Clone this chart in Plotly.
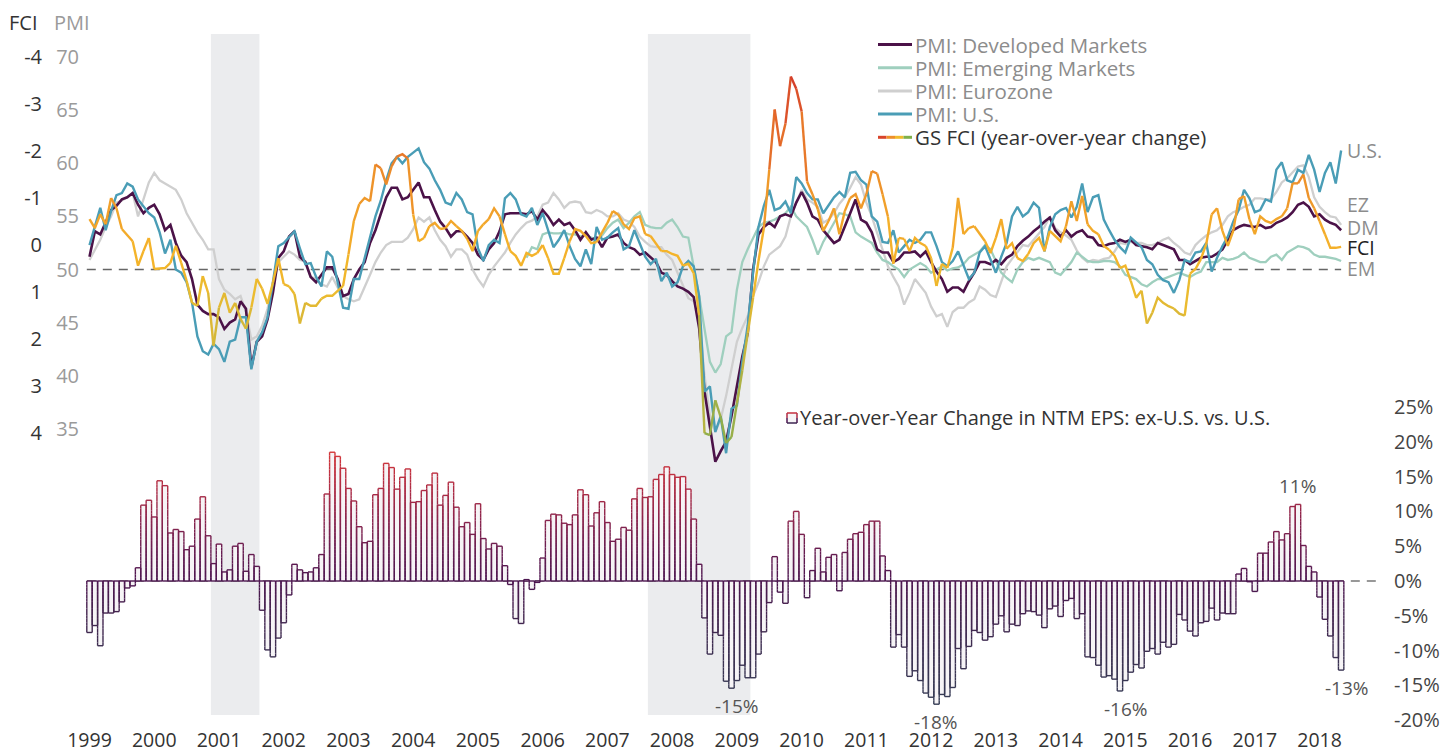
import math
import plotly.graph_objects as go

# ---------------- data (monthly, Jan 1999 .. May 2018) ----------------
START_YEAR = 1999
YEARS = list(range(1999, 2019))

EPS_YOY = [  # Year-over-Year change in NTM EPS: ex-U.S. vs. U.S. (%)
    -7.4, -6.4, -9.3, -4.6, -4.6, -4.4, -3.0, -1.0, -0.7, 1.9, 10.9, 11.6,
    9.2, 14.4, 13.7, 6.9, 7.4, 7.1, 4.5, 5.0, 8.9, 12.1, 6.5, 2.5,
    5.3, 1.3, 1.6, 5.0, 5.4, 1.4, 3.8, 2.1, -4.2, -9.9, -10.9, -8.2,
    -6.0, -2.0, 2.4, 1.6, 1.2, 1.3, 1.9, 3.8, 12.5, 18.5, 17.9, 16.2,
    13.3, 11.5, 7.8, 5.5, 5.7, 12.4, 13.3, 16.9, 16.3, 13.2, 14.9, 16.1,
    11.3, 11.4, 13.0, 13.8, 15.5, 10.9, 12.3, 14.2, 10.6, 7.8, 8.4, 6.7,
    11.1, 6.1, 4.6, 5.4, 5.0, 2.2, -0.5, -5.4, -6.1, 0.2, -1.2, -0.2,
    3.3, 8.7, 9.6, 9.5, 8.3, 8.1, 9.5, 13.1, 12.4, 7.9, 9.8, 11.4,
    8.4, 5.7, 6.0, 7.7, 7.3, 11.8, 13.3, 12.0, 12.1, 14.6, 15.3, 16.4,
    15.3, 14.9, 15.0, 13.2, 8.9, 2.4, -5.3, -10.5, -7.4, -7.8, -14.4, -15.4,
    -14.3, -12.1, -13.9, -13.9, -10.5, -7.3, -3.1, 3.5, -1.6, -3.2, 8.6, 10.0,
    6.7, -2.4, 1.5, 4.7, 1.3, 3.4, 3.8, -1.4, 4.1, 6.0, 6.8, 7.0,
    8.1, 8.6, 8.6, 3.6, 1.5, -9.5, -7.7, -9.5, -13.7, -12.9, -14.3, -16.1,
    -16.7, -17.7, -16.3, -16.6, -15.3, -9.7, -12.6, -9.4, -7.1, -7.4, -8.5, -8.0,
    -6.2, -5.0, -7.3, -6.2, -6.4, -4.7, -4.3, -4.4, -4.9, -6.7, -4.0, -3.6,
    -5.1, -2.8, -2.5, -5.4, -4.7, -10.9, -11.0, -12.1, -13.8, -13.6, -14.1, -15.8,
    -14.3, -13.1, -12.0, -12.5, -10.1, -9.7, -10.5, -8.8, -9.5, -9.1, -4.8, -5.6,
    -7.2, -7.9, -6.0, -5.8, -3.9, -5.6, -4.6, -4.7, -4.7, 1.0, 1.8, -0.1,
    -1.5, 4.0, 4.0, 5.6, 7.1, 5.9, 6.8, 10.7, 11.0, 5.1, 2.1, 1.3,
    -2.3, -5.5, -7.9, -11.0, -12.8,
]

PMI_DM = [
    51.2, 53.6, 53.3, 54.4, 55.6, 56.0, 56.6, 56.8, 57.2, 56.1, 55.3, 55.8,
    56.1, 55.2, 53.7, 54.2, 52.5, 51.3, 50.7, 49.1, 46.7, 46.1, 45.8, 45.8,
    45.5, 44.4, 45.0, 45.3, 47.0, 46.3, 40.8, 43.2, 43.7, 45.3, 47.8, 51.1,
    51.7, 53.1, 53.6, 51.2, 50.7, 49.3, 48.8, 49.5, 50.2, 50.2, 49.1, 47.5,
    47.7, 49.1, 50.0, 50.7, 52.5, 53.7, 55.3, 56.8, 57.7, 57.7, 56.6, 56.8,
    57.5, 58.2, 56.8, 56.8, 55.6, 54.5, 53.9, 53.1, 53.6, 53.6, 53.1, 52.5,
    51.4, 50.9, 51.9, 52.5, 53.6, 55.2, 55.3, 55.3, 55.3, 55.2, 55.5, 54.7,
    55.6, 55.0, 54.2, 54.7, 54.2, 54.4, 53.7, 52.8, 53.5, 52.8, 53.0, 52.1,
    53.0, 53.1, 53.3, 52.5, 52.1, 51.9, 51.4, 51.6, 51.1, 50.7, 49.7, 49.5,
    48.9, 48.4, 48.2, 47.9, 47.4, 44.5, 38.5, 35.0, 31.9, 32.9, 33.8, 36.2,
    39.0, 41.8, 44.0, 50.0, 53.3, 54.0, 54.4, 54.0, 55.0, 55.2, 55.0, 56.3,
    57.3, 56.3, 55.0, 54.7, 53.7, 53.1, 52.5, 52.8, 54.0, 55.3, 56.6, 54.7,
    54.4, 53.5, 51.9, 51.6, 51.6, 50.7, 51.0, 51.6, 51.6, 51.7, 51.2, 51.7,
    50.7, 49.8, 49.1, 47.9, 48.3, 48.3, 47.9, 48.9, 49.7, 50.7, 50.7, 50.5,
    50.9, 50.5, 51.1, 51.4, 52.2, 52.7, 53.1, 53.6, 54.0, 54.5, 54.9, 53.7,
    53.1, 53.7, 53.1, 53.5, 53.7, 53.1, 53.0, 52.3, 52.2, 52.4, 52.5, 52.8,
    52.6, 52.8, 52.3, 52.2, 52.1, 51.9, 52.5, 52.3, 52.1, 51.9, 50.9, 50.9,
    50.5, 50.8, 51.1, 51.2, 51.2, 51.5, 51.9, 52.8, 53.7, 54.0, 54.2, 54.1,
    54.0, 54.2, 53.9, 54.0, 54.4, 54.6, 54.9, 55.4, 56.1, 56.3, 55.9, 55.0,
    55.2, 54.7, 54.4, 54.2, 53.7,
]

PMI_US = [
    52.3, 54.0, 55.8, 53.7, 55.5, 57.0, 57.2, 58.1, 57.8, 56.6, 56.0, 55.3,
    54.9, 53.5, 51.5, 52.8, 50.0, 49.7, 48.8, 46.9, 43.7, 42.3, 42.0, 43.0,
    42.5, 41.3, 43.2, 43.4, 45.5, 45.5, 40.6, 43.2, 44.1, 45.5, 48.8, 52.2,
    52.5, 53.0, 53.6, 52.0, 50.5, 50.6, 49.3, 48.4, 51.7, 51.2, 48.8, 46.4,
    46.3, 49.1, 49.1, 51.0, 53.1, 55.0, 56.5, 58.4, 60.0, 60.6, 60.0, 60.6,
    61.0, 61.4, 60.1, 59.5, 58.4, 57.5, 56.3, 56.1, 57.2, 56.6, 55.4, 55.2,
    52.0, 50.8, 52.3, 52.8, 52.5, 56.7, 57.2, 56.6, 55.2, 55.0, 55.8, 54.2,
    55.3, 53.7, 52.1, 52.8, 53.7, 52.2, 51.0, 50.3, 51.9, 50.5, 54.0, 52.8,
    53.0, 53.5, 53.9, 51.9, 52.2, 53.7, 52.5, 51.2, 50.5, 51.0, 48.9, 49.7,
    48.4, 48.8, 50.3, 50.8, 50.3, 47.5, 38.5, 39.0, 34.7, 36.2, 32.7, 36.9,
    37.2, 41.3, 44.7, 49.7, 54.0, 56.0, 57.5, 55.6, 55.8, 56.4, 55.3, 58.7,
    58.1, 57.2, 56.6, 56.6, 55.3, 56.1, 56.8, 57.3, 56.8, 59.1, 59.2, 58.4,
    58.0, 55.0, 54.5, 52.6, 52.5, 53.7, 51.6, 52.2, 52.8, 52.5, 52.8, 53.5,
    53.5, 52.2, 50.7, 50.3, 50.8, 51.7, 50.3, 49.1, 49.7, 51.6, 52.2, 50.9,
    49.7, 51.2, 52.5, 55.0, 55.9, 55.0, 55.4, 56.3, 55.8, 51.7, 54.0, 55.2,
    55.6, 55.8, 54.9, 55.9, 58.1, 55.4, 56.8, 57.0, 54.7, 53.7, 52.8, 52.1,
    51.6, 53.0, 52.5, 52.1, 50.9, 50.5, 49.5, 49.0, 48.8, 47.8, 49.0, 50.9,
    50.7, 51.6, 51.7, 52.5, 49.8, 51.1, 52.2, 53.1, 54.5, 55.6, 57.5, 56.7,
    55.4, 55.6, 56.6, 56.4, 59.4, 60.1, 58.4, 58.2, 59.4, 59.1, 60.8, 59.4,
    57.3, 59.1, 60.1, 58.1, 61.2,
]

PMI_EZ = [
    50.9, 51.8, 52.8, 54.0, 55.0, 56.3, 56.5, 56.8, 57.2, 55.0, 56.6, 58.2,
    59.1, 58.4, 58.1, 57.8, 57.5, 56.6, 55.3, 54.4, 53.5, 52.8, 51.9, 51.9,
    49.1, 48.1, 47.7, 47.2, 47.5, 46.0, 43.4, 43.7, 44.7, 46.3, 48.4, 50.7,
    51.2, 51.7, 51.4, 50.9, 50.8, 49.3, 49.1, 48.6, 48.4, 49.3, 48.3, 47.5,
    47.2, 47.0, 47.2, 48.3, 49.5, 50.7, 51.6, 52.3, 52.6, 52.6, 52.6, 53.0,
    53.8, 54.9, 54.5, 54.9, 53.7, 52.8, 52.2, 51.2, 51.9, 51.9, 51.4, 50.0,
    49.1, 48.4, 49.5, 50.3, 50.9, 51.6, 52.5, 53.3, 53.9, 54.4, 54.6, 55.0,
    56.1, 56.3, 57.2, 56.6, 55.8, 56.3, 56.4, 56.3, 55.4, 55.3, 55.6, 55.4,
    55.0, 55.0, 55.3, 54.7, 54.5, 54.0, 53.1, 52.6, 52.2, 52.1, 52.1, 51.4,
    50.9, 49.7, 48.4, 47.3, 47.0, 45.6, 40.0, 36.2, 34.7, 35.9, 38.1, 40.6,
    43.2, 44.5, 45.6, 47.5, 48.8, 50.3, 51.4, 51.8, 52.2, 53.1, 55.0, 56.3,
    57.5, 56.6, 56.3, 55.9, 54.4, 54.7, 55.3, 56.2, 56.8, 57.7, 58.7, 58.0,
    56.3, 55.0, 53.5, 51.9, 50.3, 49.3, 48.4, 46.7, 47.8, 49.1, 48.4, 47.8,
    46.5, 45.6, 45.8, 44.6, 46.0, 46.4, 46.4, 46.9, 47.2, 48.4, 48.1, 47.6,
    47.4, 48.9, 50.3, 51.0, 51.7, 52.3, 52.2, 52.8, 53.5, 54.0, 55.0, 53.9,
    53.5, 53.2, 52.8, 51.8, 51.1, 50.7, 50.9, 50.8, 51.0, 51.1, 51.7, 52.5,
    52.4, 52.6, 52.5, 52.5, 52.3, 52.3, 52.5, 52.8, 53.0, 52.5, 52.1, 51.6,
    51.4, 52.3, 52.8, 53.2, 53.5, 53.7, 54.2, 55.0, 55.4, 55.6, 55.9, 56.1,
    56.7, 56.7, 56.6, 56.6, 57.3, 58.2, 58.6, 59.1, 59.7, 59.8, 58.7, 56.8,
    55.9, 55.4, 55.0, 54.9, 54.2,
]

EM_START = 81  # Oct 2005
PMI_EM = [
    51.1, 52.1, 51.9,
    53.3, 53.5, 53.4, 53.4, 53.5, 53.3, 53.3, 53.1, 53.3, 53.0, 52.8, 53.2,
    53.9, 54.4, 54.7, 53.9, 54.4, 55.0, 55.4, 54.2, 54.0, 53.9, 53.9, 54.4,
    54.7, 54.0, 53.1, 53.0, 50.3, 47.5, 44.4, 41.3, 40.3, 41.1, 43.7, 44.1,
    48.1, 50.7, 51.9, 53.0, 54.0, 54.4, 54.5, 54.7, 55.0, 55.3, 55.9, 55.0,
    54.5, 54.0, 52.8, 51.4, 52.6, 53.5, 54.5, 55.3, 55.2, 55.0, 53.5, 53.1,
    52.8, 52.5, 51.6, 50.9, 50.7, 50.3, 50.0, 49.3, 50.0, 50.3, 50.6, 50.3,
    49.7, 50.0, 50.3, 49.9, 50.1, 50.2, 50.5, 51.1, 51.4, 51.7, 52.3, 51.9,
    50.8, 49.7, 49.2, 48.8, 50.0, 50.7, 51.1, 50.9, 51.1, 50.9, 50.7, 49.7,
    49.5, 50.1, 50.7, 51.6, 51.2, 50.8, 50.7, 50.7, 50.8, 50.8, 50.7, 50.3,
    49.5, 49.3, 49.1, 48.6, 48.4, 48.8, 49.1, 49.1, 49.3, 49.5, 49.7, 49.5,
    49.3, 49.6, 49.8, 50.7, 50.7, 50.7, 51.1, 50.9, 51.0, 51.2, 51.6, 51.1,
    50.9, 50.7, 50.7, 51.2, 51.4, 50.9, 51.6, 51.9, 52.2, 52.1, 51.9, 51.4,
    51.2, 51.2, 51.1, 51.0, 50.8,
]

GS_FCI = [  # year-over-year change, inverted axis
    -0.55, -0.36, -0.65, -0.44, -1.0, -0.78, -0.34, -0.2, -0.08, 0.44, 0.13, -0.15,
    0.51, 0.5, 0.49, 0.38, 0.02, 0.38, 0.76, 1.23, 1.29, 0.66, 1.02, 2.14,
    1.33, 1.02, 1.44, 1.23, 1.57, 1.78, 1.33, 0.72, 0.93, 1.25, 0.80, 0.28,
    0.83, 0.88, 1.04, 1.67, 1.23, 1.29, 1.29, 1.14, 1.08, 1.08, 0.97, 0.87,
    0.20, -0.51, -0.87, -1.0, -0.93, -1.71, -1.63, -1.29, -1.67, -1.88, -1.93, -1.84,
    -0.65, -0.08, -0.15, -0.40, -0.47, -0.34, -0.36, -0.51, -0.40, -0.30, -0.13, 0.13,
    -0.30, -0.44, -0.55, -0.78, -0.61, -0.23, 0.13, 0.23, 0.44, 0.17, 0.23, 0.17,
    0.0, 0.28, 0.61, 0.61, 0.28, -0.08, -0.34, -0.30, -0.19, -0.04, -0.06, -0.25,
    -0.47, -0.72, -0.65, -0.44, -0.34, -0.57, -0.61, -0.23, -0.19, -0.04, 0.13, 0.13,
    0.19, 0.23, 0.44, 0.40, 0.6, 1.5, 4.0, 4.04, 3.3, 3.66, 4.21, 4.08,
    3.37, 2.67, 1.88, 1.12, 0.34, -0.36, -1.6, -2.88, -2.10, -2.58, -3.58, -3.32,
    -2.84, -1.35, -1.08, -0.76, -0.30, -0.51, -0.78, -0.23, -0.72, -1.0, -1.08, -0.78,
    -1.08, -1.57, -1.52, -1.08, -0.6, 0.40, -0.15, -0.13, 0.13, -0.15, -0.04, 0.02,
    0.28, 0.87, 0.40, 0.49, 0.06, -1.0, -0.23, -0.36, -0.40, -0.23, -0.08, 0.17,
    -0.15, -0.55, 0.08, -0.04, 0.28, 0.34, 0.19, -0.04, -0.15, 0.13, -0.30, -0.2,
    -0.08, -0.40, -0.93, -0.51, -1.04, -0.44, -0.30, -0.23, 0.02, 0.1, 0.23, 0.49,
    0.44, 0.76, 1.12, 0.97, 1.67, 1.44, 1.12, 1.23, 1.30, 1.35, 1.46, 1.50,
    0.61, 0.51, 0.30, -0.02, -0.65, -0.78, -0.30, 0.02, -0.30, -0.97, -1.04, -0.55,
    -0.23, -0.61, -0.51, -0.47, -0.55, -0.61, -0.78, -1.31, -1.31, -1.50, -1.0, -0.78,
    -0.51, -0.23, 0.06, 0.06, 0.04,
]

RECESSION_START = [2000 + 11 / 12, 2007 + 8 / 12]
RECESSION_END = [2001 + 8 / 12, 2009 + 3 / 12]

PMI_TICKS = [35, 40, 45, 50, 55, 60, 65, 70]
FCI_TICKS = [-4, -3, -2, -1, 0, 1, 2, 3, 4]
EPS_TICKS = [-20, -15, -10, -5, 0, 5, 10, 15, 20, 25]
BAR_LABEL_IDX = [119, 157, 191, 224, 232]

# ---------------- styling / geometry ----------------
W, H = 1447, 751
FONT = "Open Sans"
C_DM, C_EM, C_EZ, C_US = "#4b1248", "#9fcfbe", "#cfcfcf", "#4a9db6"
C_GRAY_TXT, C_DARK_TXT = "#8c8c8c", "#333333"

PLOT_L, PLOT_R, PLOT_T, PLOT_B = 80, 1393, 34, 726
X0_PX, PX_PER_YEAR = 89.5, 64.74


def mx(i):
    return START_YEAR + (i + 0.5) / 12


def xr(px):
    return mx(0) + (px - X0_PX) / PX_PER_YEAR


def fx(px):
    return px / W


def fy(py):
    return (PLOT_B - py) / (PLOT_B - PLOT_T)


def yrange(val, px, ppu, invert=False):
    if not invert:
        return [val - (PLOT_B - px) / ppu, val + (px - PLOT_T) / ppu]
    return [val + (PLOT_B - px) / ppu, val - (px - PLOT_T) / ppu]


def hex2rgb(h):
    h = h.lstrip("#")
    return tuple(int(h[k:k + 2], 16) for k in (0, 2, 4))


def interp(v, stops):
    if v <= stops[0][0]:
        return stops[0][1]
    if v >= stops[-1][0]:
        return stops[-1][1]
    for (a, ca), (b, cb) in zip(stops, stops[1:]):
        if a <= v <= b:
            t = (v - a) / (b - a)
            r1, g1, b1 = hex2rgb(ca)
            r2, g2, b2 = hex2rgb(cb)
            return "rgb(%d,%d,%d)" % (r1 + (r2 - r1) * t, g1 + (g2 - g1) * t, b1 + (b2 - b1) * t)


FCI_STOPS = [(-3.6, "#d43d2a"), (-2.5, "#e3652a"), (-1.6, "#ec8a2a"), (-0.6, "#f2a42a"),
             (0.2, "#f5b42a"), (1.0, "#ebbb2f"), (2.0, "#cdb63c"), (3.0, "#aeb244"), (4.2, "#8dae4c")]
# outline colour depends on the height level (vertical gradient)
BAR_STOPS = [(-18, "#353d55"), (-10, "#3d3052"), (-4, "#45234f"), (0, "#4d1650"), (4, "#661c51"),
             (8, "#84234e"), (12, "#a52a47"), (16, "#c3313f"), (19, "#d93b39")]

fig = go.Figure()

# bar fills (base axis y, right side)
fig.add_trace(go.Bar(
    x=[mx(i) for i in range(len(EPS_YOY))], y=EPS_YOY, width=1 / 12,
    marker=dict(color="#f6f4f6", line=dict(width=0)),
    yaxis="y", hoverinfo="skip", showlegend=False))

# bar outlines with a vertical colour gradient
edge = {}


def add_edge(key, xa, ya, xb, yb):
    g = edge.setdefault(key, ([], []))
    g[0].extend([xa, xb, None])
    g[1].extend([ya, yb, None])


HALF = 1 / 24
for i, v in enumerate(EPS_YOY):
    xl, xrr = mx(i) - HALF, mx(i) + HALF
    n = max(1, int(math.ceil(abs(v) / 0.5)))
    for k in range(n):
        a, b = v * k / n, v * (k + 1) / n
        key = round((a + b) / 2 * 2) / 2
        add_edge(key, xl, a, xl, b)
        add_edge(key, xrr, a, xrr, b)
    add_edge(round(v * 2) / 2, xl, v, xrr, v)
    add_edge(0.0, xl, 0, xrr, 0)
for key, (xs, ys) in edge.items():
    fig.add_trace(go.Scatter(x=xs, y=ys, mode="lines", line=dict(color=interp(key, BAR_STOPS), width=1.4),
                             yaxis="y", hoverinfo="skip", showlegend=False))

# PMI lines
for vals, start, col, w in [(PMI_EZ, 0, C_EZ, 2.3), (PMI_EM, EM_START, C_EM, 2.3),
                            (PMI_DM, 0, C_DM, 2.6), (PMI_US, 0, C_US, 2.4)]:
    fig.add_trace(go.Scatter(
        x=[mx(start + k) for k in range(len(vals))], y=vals, mode="lines",
        line=dict(color=col, width=w), yaxis="y2", hoverinfo="skip", showlegend=False))

# FCI line, coloured by level
groups = {}
for i in range(len(GS_FCI) - 1):
    key = round((GS_FCI[i] + GS_FCI[i + 1]) / 2 * 4) / 4
    g = groups.setdefault(key, {"x": [], "y": [], "last": None})
    if g["last"] != i:
        if g["x"]:
            g["x"].append(None)
            g["y"].append(None)
        g["x"].append(mx(i))
        g["y"].append(GS_FCI[i])
    g["x"].append(mx(i + 1))
    g["y"].append(GS_FCI[i + 1])
    g["last"] = i + 1
for key, g in groups.items():
    fig.add_trace(go.Scatter(x=g["x"], y=g["y"], mode="lines",
                             line=dict(color=interp(key, FCI_STOPS), width=2.4),
                             yaxis="y3", hoverinfo="skip", showlegend=False))

shapes = []
for a, b in zip(RECESSION_START, RECESSION_END):
    shapes.append(dict(type="rect", xref="x", yref="paper", x0=a, x1=b, y0=fy(715), y1=1,
                       fillcolor="#ebecee", line=dict(width=0), layer="below"))
shapes.append(dict(type="line", xref="x", yref="y2", x0=START_YEAR, x1=mx(len(PMI_DM) - 1), y0=50, y1=50,
                   line=dict(color="#666666", width=1.6, dash="9px,7px"), layer="below"))
shapes.append(dict(type="line", xref="x", yref="y", x0=START_YEAR, x1=2019.0, y0=0, y1=0,
                   line=dict(color="#777777", width=1.5, dash="9px,7px"), layer="below"))

annotations = []


def ptext(text, px, py, size, color, xanchor="center"):
    annotations.append(dict(text=text, x=fx(px), y=fy(py), xref="paper", yref="paper",
                            xanchor=xanchor, yanchor="middle", showarrow=False, borderpad=0,
                            font=dict(family=FONT, size=size, color=color)))


# axis headers
ptext("FCI", 23, 22, 20, C_DARK_TXT)
ptext("PMI", 72, 22, 20, "#9a9a9a")

# line legend (custom, FCI has a gradient swatch)
legend_rows = [("PMI: Developed Markets", [C_DM], C_GRAY_TXT),
               ("PMI: Emerging Markets", [C_EM], C_GRAY_TXT),
               ("PMI: Eurozone", [C_EZ], C_GRAY_TXT),
               ("PMI: U.S.", [C_US], C_GRAY_TXT),
               ("GS FCI (year-over-year change)", ["#d8442b", "#ee8f2a", "#f0bb2c", "#7fb04a"], C_DARK_TXT)]
for r, (label, cols, tcol) in enumerate(legend_rows):
    yy = 44.5 + r * 23.2
    x_a, x_b = 878, 912
    step = (x_b - x_a) / len(cols)
    for k, c in enumerate(cols):
        shapes.append(dict(type="line", xref="paper", yref="paper", x0=fx(x_a + k * step),
                           x1=fx(x_a + (k + 1) * step), y0=fy(yy), y1=fy(yy), line=dict(color=c, width=3)))
    ptext(label, 914, yy, 20.5, tcol, xanchor="left")

# bar legend swatch (gradient outline: red top, purple bottom)
shapes.append(dict(type="rect", xref="paper", yref="paper", x0=fx(787), x1=fx(797), y0=fy(423), y1=fy(413),
                   fillcolor="#f6f4f6", line=dict(width=0)))
for (ya, yb, c) in [(413, 418, "#b02d44"), (418, 423, "#4d1650")]:
    for xx in (787, 797):
        shapes.append(dict(type="line", xref="paper", yref="paper", x0=fx(xx), x1=fx(xx), y0=fy(ya), y1=fy(yb),
                           line=dict(color=c, width=1.5)))
shapes.append(dict(type="line", xref="paper", yref="paper", x0=fx(787), x1=fx(797), y0=fy(413), y1=fy(413),
                   line=dict(color="#c4303f", width=1.5)))
shapes.append(dict(type="line", xref="paper", yref="paper", x0=fx(787), x1=fx(797), y0=fy(423), y1=fy(423),
                   line=dict(color="#3d2550", width=1.5)))
ptext("Year-over-Year Change in NTM EPS: ex-U.S. vs. U.S.", 799, 418, 20, C_DARK_TXT, xanchor="left")

# end labels
for text, py, col in [("U.S.", 150, C_GRAY_TXT), ("EZ", 205, C_GRAY_TXT), ("DM", 227, C_GRAY_TXT),
                      ("FCI", 247.5, "#222222"), ("EM", 268, C_GRAY_TXT)]:
    ptext(text, 1346, py, 19.5, col, xanchor="left")

# bar value labels
for i, xs in zip(BAR_LABEL_IDX, [5, -1, 6, 0, 6]):
    v = EPS_YOY[i]
    annotations.append(dict(text="%d%%" % round(v), x=mx(i), y=v, xref="x", yref="y", showarrow=False,
                            yanchor="top" if v < 0 else "bottom", yshift=-4 if v < 0 else 4, xshift=xs,
                            borderpad=0, font=dict(family=FONT, size=19, color="#555555")))

fig.update_layout(
    template="none", width=W, height=H,
    margin=dict(l=0, r=0, t=PLOT_T, b=H - PLOT_B, pad=0),
    paper_bgcolor="white", plot_bgcolor="white",
    showlegend=False, hovermode=False, bargap=0,
    font=dict(family=FONT, color=C_DARK_TXT),
    xaxis=dict(domain=[fx(PLOT_L), fx(PLOT_R)], range=[xr(PLOT_L), xr(PLOT_R)],
               tickvals=[mx(12 * (y - START_YEAR)) for y in YEARS], ticktext=[str(y) for y in YEARS],
               tickfont=dict(family=FONT, size=19.5, color=C_DARK_TXT), showgrid=False, zeroline=False,
               showline=False, ticks="", automargin=False),
    yaxis=dict(side="right", anchor="x", range=yrange(0, 581, 6.96),
               tickvals=EPS_TICKS, ticktext=["%d%%" % v for v in EPS_TICKS],
               tickfont=dict(family=FONT, size=20, color="#444444"), showgrid=False, zeroline=False,
               showline=False, ticks="", automargin=False),
    yaxis2=dict(overlaying="y", side="left", anchor="x", range=yrange(50, 269.5, 10.62),
                tickvals=PMI_TICKS, ticktext=[str(v) for v in PMI_TICKS],
                tickfont=dict(family=FONT, size=20, color="#9a9a9a"), showgrid=False, zeroline=False,
                showline=False, ticks="", automargin=False),
    yaxis3=dict(overlaying="y", side="left", anchor="free", position=fx(42),
                range=yrange(0, 245, 47.05, invert=True),
                tickvals=FCI_TICKS, ticktext=[str(v) for v in FCI_TICKS],
                tickfont=dict(family=FONT, size=20, color=C_DARK_TXT), showgrid=False, zeroline=False,
                showline=False, ticks="", automargin=False),
    shapes=shapes, annotations=annotations,
)

fig.write_html("out.html", config={"displayModeBar": False},
               post_script="document.body.style.margin='0px';document.body.style.overflow='hidden';")
